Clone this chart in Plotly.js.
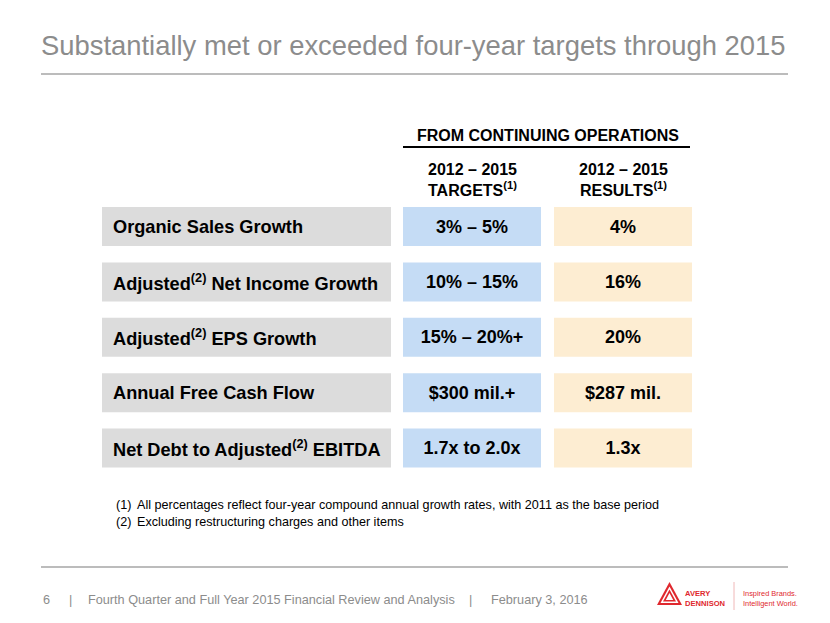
<!DOCTYPE html>
<html>
<head>
<meta charset="utf-8">
<script src="https://cdn.plot.ly/plotly-3.0.1.min.js"></script>
<style>html,body{margin:0;padding:0;background:#fff;}#chart{width:830px;height:623px;}</style>
</head>
<body>
<div id="chart"></div>
<script>
// ---- data ----
const metrics = [
  'Organic Sales Growth',
  'Adjusted<sup>(2)</sup> Net Income Growth',
  'Adjusted<sup>(2)</sup> EPS Growth',
  'Annual Free Cash Flow',
  'Net Debt to Adjusted<sup>(2)</sup> EBITDA'
];
const targets = ['3% – 5%', '10% – 15%', '15% – 20%+', '$300 mil.+', '1.7x to 2.0x'];
const results = ['4%', '16%', '20%', '$287 mil.', '1.3x'];
const groupHeader = 'FROM CONTINUING OPERATIONS';
const columnHeaders = ['2012 – 2015<br>TARGETS<sup>(1)</sup>', '2012 – 2015<br>RESULTS<sup>(1)</sup>'];
const footnoteMarks = ['(1)', '(2)'];
const footnotes = [
  'All percentages reflect four-year compound annual growth rates, with 2011 as the base period',
  'Excluding restructuring charges and other items'
];
const titleText = 'Substantially met or exceeded four-year targets through 2015';
const footerPage = '6';
const footerText = 'Fourth Quarter and Full Year 2015 Financial Review and Analysis';
const footerDate = 'February 3, 2016';
const logoName = 'AVERY<br>DENNISON';
const logoTagline = 'Inspired Brands.<br>Intelligent World.';

// ---- layout constants ----
const W = 830, H = 623;
const FONT = 'Liberation Sans, Arial, sans-serif';
const rowTop0 = 226.5, pitch = 55.4, boxH = 39;
const COL = {
  label:  {x0: 102, x1: 391, color: '#dcdcdc'},
  target: {x0: 403, x1: 541, color: '#c5dcf5'},
  result: {x0: 554, x1: 692, color: '#fdedd2'}
};
const rangeTop = -rowTop0 / pitch;
const rangeBottom = (H - rowTop0) / pitch;
const barW = boxH / pitch;

function colTrace(col, text) {
  const t = {
    type: 'bar', orientation: 'h',
    y: metrics,
    x: metrics.map(() => col.x1 - col.x0),
    base: col.x0,
    width: barW,
    marker: {color: col.color, line: {width: 0}},
    hoverinfo: 'skip',
    showlegend: false
  };
  if (text) {
    t.text = text;
    t.textposition = 'inside';
    t.insidetextanchor = 'middle';
    t.constraintext = 'none';
    t.textangle = 0;
    t.insidetextfont = {family: FONT, size: 18, color: '#000000', weight: 'bold'};
  }
  return t;
}

const data = [
  colTrace(COL.label, null),
  colTrace(COL.target, targets),
  colTrace(COL.result, results)
];

const annotations = [];
// row labels
metrics.forEach(m => annotations.push({
  xref: 'x', yref: 'y', x: 111, y: m, xanchor: 'left', yanchor: 'middle',
  text: m, showarrow: false,
  font: {family: FONT, size: 18.2, color: '#000000', weight: 'bold'}
}));
// title
annotations.push({xref: 'x', yref: 'y2', x: 39, y: 45.5, xanchor: 'left', yanchor: 'middle',
  text: titleText, showarrow: false, font: {family: FONT, size: 27.4, color: '#8c8c8c'}});
// group header
annotations.push({xref: 'x', yref: 'y2', x: (COL.target.x0 + COL.result.x1) / 2, y: 135,
  xanchor: 'center', yanchor: 'middle', text: groupHeader, showarrow: false,
  font: {family: FONT, size: 16, color: '#000000', weight: 'bold'}});
// column headers
[COL.target, COL.result].forEach((c, i) => annotations.push({
  xref: 'x', yref: 'y2', x: (c.x0 + c.x1) / 2, y: 179.5, xanchor: 'center', yanchor: 'middle',
  text: columnHeaders[i], showarrow: false,
  font: {family: FONT, size: 16, color: '#000000', weight: 'bold'}
}));
// footnotes
footnotes.forEach((f, i) => {
  annotations.push({xref: 'x', yref: 'y2', x: 114, y: 505 + i * 16.5, xanchor: 'left', yanchor: 'middle',
    text: footnoteMarks[i], showarrow: false, font: {family: FONT, size: 12.6, color: '#000000'}});
  annotations.push({xref: 'x', yref: 'y2', x: 135, y: 505 + i * 16.5, xanchor: 'left', yanchor: 'middle',
    text: f, showarrow: false, font: {family: FONT, size: 12.6, color: '#000000'}});
});
// footer
const footGray = '#8c8c8c';
[[41, footerPage, 'left'], [70, '|', 'center'], [86, footerText, 'left'], [470, '|', 'center'], [489, footerDate, 'left']]
  .forEach(([x, t, anc]) =>
  annotations.push({xref: 'x', yref: 'y2', x: x, y: 600, xanchor: anc,
    yanchor: 'middle', text: t, showarrow: false, font: {family: FONT, size: 12.7, color: footGray}}));
// logo text
const red = '#e0282e';
annotations.push({xref: 'x', yref: 'y2', x: 683, y: 598.5, xanchor: 'left', yanchor: 'middle',
  text: logoName, showarrow: false, align: 'left',
  font: {family: FONT, size: 7.6, color: red, weight: 'bold'}});
annotations.push({xref: 'x', yref: 'y2', x: 741, y: 598.5, xanchor: 'left', yanchor: 'middle',
  text: logoTagline, showarrow: false, align: 'left',
  font: {family: FONT, size: 7.4, color: red}});

const shapes = [
  {type: 'line', xref: 'x', yref: 'y2', x0: 41, x1: 788, y0: 74, y1: 74, line: {color: '#a6a6a6', width: 1.5}},
  {type: 'line', xref: 'x', yref: 'y2', x0: 41, x1: 788, y0: 567, y1: 567, line: {color: '#a6a6a6', width: 1.5}},
  {type: 'line', xref: 'x', yref: 'y2', x0: COL.target.x0, x1: COL.result.x1 - 2, y0: 147, y1: 147, line: {color: '#000000', width: 2}},
  // logo divider
  {type: 'line', xref: 'x', yref: 'y2', x0: 734, x1: 734, y0: 582, y1: 610, line: {color: '#f0b8b8', width: 1}},
  // logo triangle
  {type: 'path', xref: 'x', yref: 'y2', path: 'M 657 605 L 669.5 582 L 682 605 Z', fillcolor: red, line: {width: 0}},
  {type: 'path', xref: 'x', yref: 'y2', path: 'M 660.5 603 L 669.5 586.5 L 678.5 603 Z', fillcolor: '#ffffff', line: {width: 0}},
  {type: 'path', xref: 'x', yref: 'y2', path: 'M 663 601.5 L 669.5 589.5 L 676 601.5 Z', fillcolor: red, line: {width: 0}},
  {type: 'path', xref: 'x', yref: 'y2', path: 'M 665.8 600 L 669.5 593 L 673.2 600 Z', fillcolor: '#ffffff', line: {width: 0}}
];

const layout = {
  width: W, height: H,
  margin: {l: 0, r: 0, t: 0, b: 0, pad: 0},
  paper_bgcolor: '#ffffff', plot_bgcolor: '#ffffff',
  showlegend: false,
  barmode: 'overlay',
  xaxis: {range: [0, W], visible: false, fixedrange: true},
  yaxis: {type: 'category', categoryorder: 'array', categoryarray: metrics,
          range: [rangeBottom, rangeTop], visible: false, fixedrange: true},
  yaxis2: {range: [H, 0], overlaying: 'y', visible: false, fixedrange: true},
  annotations: annotations,
  shapes: shapes
};

Plotly.newPlot('chart', data, layout, {displayModeBar: false, staticPlot: true});
</script>
</body>
</html>
